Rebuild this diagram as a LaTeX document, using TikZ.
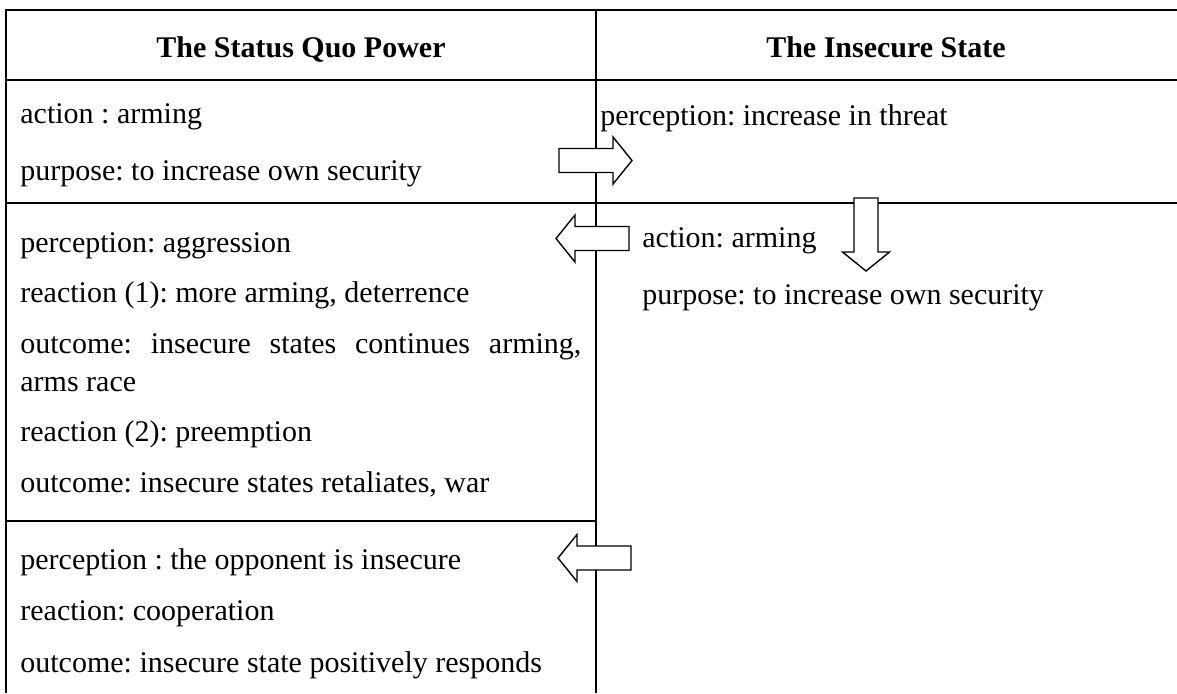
\documentclass[tikz,border=0pt]{standalone}
\usepackage{fontspec}
\setmainfont{Liberation Serif}
\frenchspacing
\begin{document}
\begin{tikzpicture}[x=0.5pt, y=-0.5pt,
    tabline/.style={line width=1pt},
    cell/.style={anchor=north west, inner sep=0pt, align=left,
      font=\fontsize{15}{19}\selectfont, execute at begin node=\rule{0pt}{11pt}},
    head/.style={anchor=base, inner sep=0pt, font=\fontsize{15}{19}\selectfont\bfseries},
    fatarrow/.pic={\draw[line width=0.7pt, fill=white, line join=miter]
      (0,-12) -- (54,-12) -- (54,-23.5) -- (73,0) -- (54,23.5) -- (54,12) -- (0,12) -- cycle;}]
  \useasboundingbox (0,0) rectangle (1177,693);
  % table rules
  \draw[tabline] (6,693) -- (6,10) -- (1177,10);
  \draw[tabline] (6,80) -- (1177,80);
  \draw[tabline] (6,203) -- (1177,203);
  \draw[tabline] (6,521) -- (596,521);
  \draw[tabline] (596,10) -- (596,693);
  % headings
  \node[head] (hsq) at (301,57) {The Status Quo Power};
  \node[head] (hin) at (886,57) {The Insecure State};
  % status quo power column
  \node[cell] (sq1) at (20,103) {action : arming\\[9.5pt]
    purpose: to increase own security};
  \node[cell] (sq2) at (20,232) {perception: aggression\\[6.25pt]
    reaction (1): more arming, deterrence\\[6.25pt]
    \makebox[280.5pt][s]{outcome: insecure states continues arming,}\\
    arms race\\[6.25pt]
    reaction (2): preemption\\[6.25pt]
    outcome: insecure states retaliates, war};
  \node[cell] (sq3) at (20,548) {perception : the opponent is insecure\\[6.75pt]
    reaction: cooperation\\[6.75pt]
    outcome: insecure state positively responds};
  % insecure state column
  \node[cell] (in1) at (600,103) {perception: increase in threat};
  \node[cell] (in2) at (642,227) {action: arming\\[9.5pt]
    purpose: to increase own security};
  % block arrows
  \pic at (559,160.5) {fatarrow};
  \pic[rotate=-90] at (866,198) {fatarrow};
  \pic[rotate=180] at (629,238.5) {fatarrow};
  \pic[rotate=180] at (631,558) {fatarrow};
\end{tikzpicture}
\end{document}
